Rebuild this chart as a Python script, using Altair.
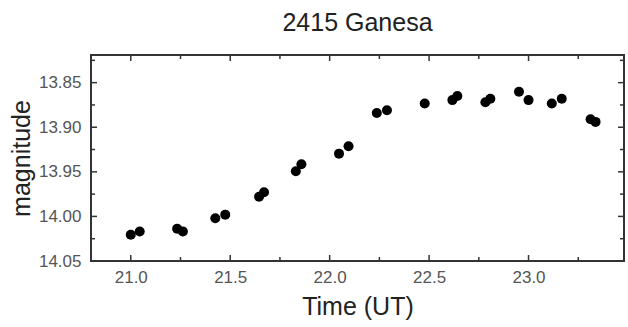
import altair as alt
import pandas as pd

time_ut = [21.0, 21.045, 21.233, 21.262, 21.425, 21.475, 21.645, 21.67, 21.83, 21.858,
           22.047, 22.095, 22.237, 22.288, 22.478, 22.617, 22.642, 22.783, 22.808,
           22.952, 23.0, 23.117, 23.167, 23.312, 23.337]
magnitude = [14.0206, 14.017, 14.0139, 14.017, 14.002, 13.998, 13.978, 13.973, 13.9494, 13.9416,
             13.9296, 13.9213, 13.884, 13.881, 13.8734, 13.8696, 13.865, 13.872, 13.868,
             13.8603, 13.8696, 13.8734, 13.868, 13.891, 13.894]

x_major = [21.0, 21.5, 22.0, 22.5, 23.0]
x_minor = [21.25, 21.75, 22.25, 22.75, 23.25]
y_major = [13.85, 13.90, 13.95, 14.00]
y_minor = [13.825, 13.875, 13.925, 13.975, 14.025]
y_labels = [13.85, 13.90, 13.95, 14.00, 14.05]

X_DOMAIN = [20.8, 23.48]
Y_DOMAIN = [13.819, 14.05]

W, H = 533, 206
FONT = "Liberation Sans"
TICK = "#333333"

df = pd.DataFrame({"t": time_ut, "m": magnitude})
xs = alt.Scale(domain=X_DOMAIN, nice=False, zero=False)
ys = alt.Scale(domain=Y_DOMAIN, nice=False, zero=False, reverse=True)

points = alt.Chart(df).mark_circle(size=100, color="black", opacity=1).encode(
    x=alt.X("t:Q", scale=xs, title="Time (UT)",
            axis=alt.Axis(values=x_major, format=".1f", ticks=False, domain=False, grid=False,
                          labelFont=FONT, labelFontSize=17, labelColor="#555555", labelPadding=8,
                          titleFont=FONT, titleFontSize=25, titleFontWeight="normal",
                          titleColor="#222222", titlePadding=9)),
    y=alt.Y("m:Q", scale=ys, title="magnitude",
            axis=alt.Axis(values=y_labels, format=".2f", ticks=False, domain=False, grid=False,
                          labelFont=FONT, labelFontSize=17, labelColor="#555555", labelPadding=10,
                          titleFont=FONT, titleFontSize=25, titleFontWeight="normal",
                          titleColor="#222222", titlePadding=4)),
)

def xticks(vals, length):
    d = pd.DataFrame({"t": vals})
    bottom = alt.Chart(d).mark_rule(color=TICK, strokeWidth=1.5).encode(
        x=alt.X("t:Q", scale=xs), y=alt.value(H), y2=alt.value(H - length))
    top = alt.Chart(d).mark_rule(color=TICK, strokeWidth=1.5).encode(
        x=alt.X("t:Q", scale=xs), y=alt.value(0), y2=alt.value(length))
    return [bottom, top]

def yticks(vals, length):
    d = pd.DataFrame({"m": vals})
    left = alt.Chart(d).mark_rule(color=TICK, strokeWidth=1.5).encode(
        y=alt.Y("m:Q", scale=ys), x=alt.value(0), x2=alt.value(length))
    right = alt.Chart(d).mark_rule(color=TICK, strokeWidth=1.5).encode(
        y=alt.Y("m:Q", scale=ys), x=alt.value(W), x2=alt.value(W - length))
    return [left, right]

layers = xticks(x_major, 6) + xticks(x_minor, 4) + yticks(y_major, 6) + yticks(y_minor, 4) + [points]

chart = alt.layer(*layers).properties(
    width=W, height=H,
    title=alt.TitleParams("2415 Ganesa", font=FONT, fontSize=25, fontWeight="normal",
                          color="#222222", offset=18, anchor="middle"),
    autosize=alt.AutoSizeParams(type="none"),
    padding={"left": 91, "top": 55, "right": 4, "bottom": 66},
    background="white",
).configure_view(stroke="#333333", strokeWidth=2)

chart.save("out.html", embed_options={"renderer": "svg", "actions": False})
